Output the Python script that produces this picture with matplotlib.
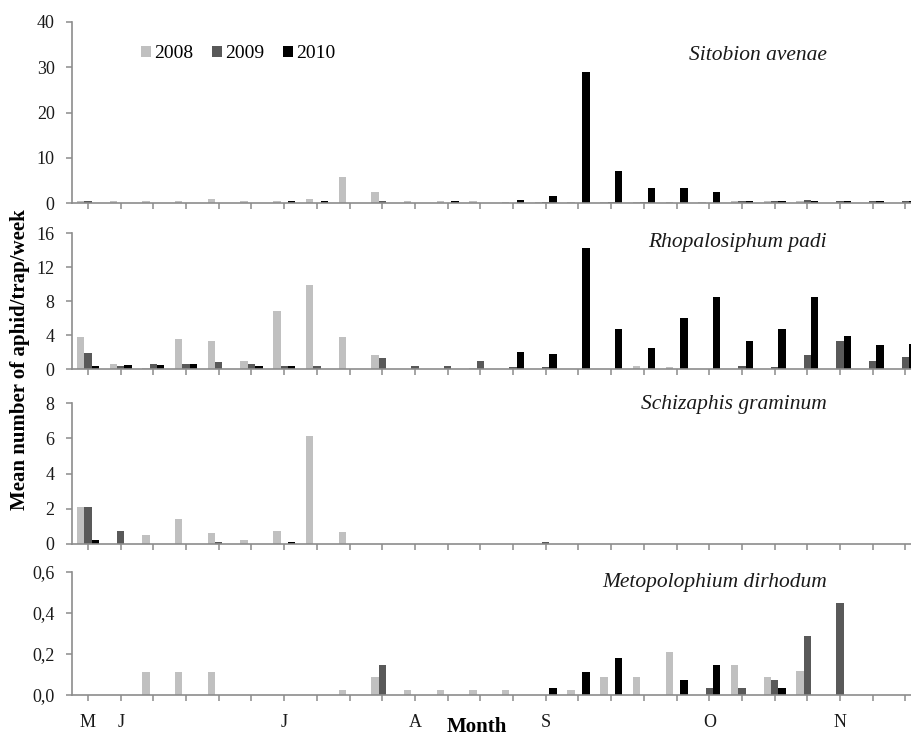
import matplotlib
matplotlib.use("Agg")
import matplotlib.pyplot as plt
import numpy as np

years = ["2008", "2009", "2010"]
colors = ["#c0c0c0", "#595959", "#000000"]

# 26 weekly sampling dates (May - November)
n_weeks = 26
month_labels = ["M", "J", "J", "A", "S", "O", "N"]
month_pos = [0, 1, 6, 10, 14, 19, 23]

species = ["Sitobion avenae", "Rhopalosiphum padi", "Schizaphis graminum", "Metopolophium dirhodum"]

sitobion_2008 = [0.4, 0.4, 0.4, 0.4, 0.8, 0.4, 0.4, 0.8, 5.8, 2.5, 0.4, 0.4, 0.4, 0.3, 0.3, 0.3, 0.3, 0.3, 0.3, 0.3, 0.4, 0.4, 0.4, 0, 0, 0]
sitobion_2009 = [0.5, 0, 0, 0, 0, 0, 0, 0, 0, 0.4, 0, 0, 0, 0, 0.3, 0, 0.3, 0.3, 0, 0, 0.4, 0.4, 0.7, 0.4, 0.4, 0.4]
sitobion_2010 = [0, 0, 0, 0, 0, 0, 0.5, 0.5, 0, 0, 0, 0.5, 0, 0.7, 1.6, 29.0, 7.1, 3.3, 3.3, 2.5, 0.4, 0.4, 0.4, 0.4, 0.4, 0.4]

padi_2008 = [3.8, 0.6, 0.1, 3.5, 3.3, 0.9, 6.8, 9.9, 3.8, 1.6, 0, 0, 0.1, 0, 0, 0, 0, 0.4, 0.2, 0, 0, 0, 0, 0, 0, 0]
padi_2009 = [1.9, 0.3, 0.6, 0.6, 0.8, 0.6, 0.3, 0.3, 0, 1.3, 0.3, 0.3, 0.9, 0.2, 0.2, 0, 0, 0, 0, 0, 0.4, 0.2, 1.6, 3.3, 0.9, 1.4]
padi_2010 = [0.3, 0.5, 0.5, 0.6, 0, 0.3, 0.3, 0, 0, 0, 0, 0, 0, 2.0, 1.8, 14.2, 4.7, 2.5, 6.0, 8.5, 3.3, 4.7, 8.5, 3.9, 2.8, 2.9]

schiz_2008 = [2.1, 0, 0.5, 1.4, 0.6, 0.2, 0.75, 6.1, 0.7, 0, 0, 0, 0, 0, 0, 0, 0, 0, 0, 0, 0, 0, 0, 0, 0, 0]
schiz_2009 = [2.1, 0.75, 0, 0, 0.1, 0, 0, 0, 0, 0, 0, 0, 0, 0, 0.1, 0, 0, 0, 0, 0, 0, 0, 0, 0, 0, 0]
schiz_2010 = [0.2, 0, 0, 0, 0, 0, 0.1, 0, 0, 0, 0, 0, 0, 0, 0, 0, 0, 0, 0, 0, 0, 0, 0, 0, 0, 0]

metop_2008 = [0, 0, 0.11, 0.11, 0.11, 0, 0, 0, 0.025, 0.09, 0.025, 0.025, 0.025, 0.025, 0, 0.025, 0.09, 0.09, 0.21, 0, 0.146, 0.09, 0.117, 0, 0, 0]
metop_2009 = [0, 0, 0, 0, 0, 0, 0, 0, 0, 0.146, 0, 0, 0, 0, 0, 0, 0, 0, 0, 0.035, 0.035, 0.075, 0.29, 0.45, 0, 0]
metop_2010 = [0, 0, 0, 0, 0, 0, 0, 0, 0, 0, 0, 0, 0, 0, 0.035, 0.11, 0.18, 0, 0.073, 0.146, 0, 0.035, 0, 0, 0, 0]

panels = [
    (species[0], [sitobion_2008, sitobion_2009, sitobion_2010], [0, 10, 20, 30, 40], ["0", "10", "20", "30", "40"]),
    (species[1], [padi_2008, padi_2009, padi_2010], [0, 4, 8, 12, 16], ["0", "4", "8", "12", "16"]),
    (species[2], [schiz_2008, schiz_2009, schiz_2010], [0, 2, 4, 6, 8], ["0", "2", "4", "6", "8"]),
    (species[3], [metop_2008, metop_2009, metop_2010], [0, 0.2, 0.4, 0.6], ["0,0", "0,2", "0,4", "0,6"]),
]

W, H = 912, 736
fig = plt.figure(figsize=(W / 100, H / 100), dpi=100)
serif = ["Liberation Serif", "DejaVu Serif"]
plt.rcParams["font.family"] = serif

# pixel boxes (top, bottom) of each plot area
boxes = [(22, 203), (233, 369), (403, 544), (572, 695)]
left_px = 72
x0_px = 88
step_px = 32.7
xlim = ((left_px - x0_px) / step_px, (W - x0_px) / step_px)

x = np.arange(n_weeks)
bw = 0.225
offsets = [-bw, 0, bw]
axis_col = "#8c8c8c"
text_col = "#1a1a1a"

axes = []
for i, ((top, bot), (name, series, yt, ytl)) in enumerate(zip(boxes, panels)):
    ax = fig.add_axes([left_px / W, 1 - bot / H, 1 - left_px / W, (bot - top) / H])
    axes.append(ax)
    for s, vals in enumerate(series):
        ax.bar(x + offsets[s], vals, width=bw, color=colors[s], linewidth=0,
               label=years[s], zorder=2)
    ax.set_xlim(*xlim)
    ax.set_ylim(yt[0], yt[-1])
    ax.set_yticks(yt)
    ax.set_yticklabels(ytl)
    ax.set_xticks(x)
    if i == 3:
        labels = [""] * n_weeks
        for m, p in zip(month_labels, month_pos):
            labels[p] = m
        ax.set_xticklabels(labels)
    else:
        ax.set_xticklabels([])
    for sp in ["top", "right"]:
        ax.spines[sp].set_visible(False)
    for sp in ["left", "bottom"]:
        ax.spines[sp].set_color(axis_col)
        ax.spines[sp].set_linewidth(1.2)
    ax.tick_params(axis="both", direction="out", length=4.5, width=1.1, color=axis_col,
                   labelsize=13, labelcolor=text_col)
    ax.tick_params(axis="y", pad=8)
    ax.tick_params(axis="x", pad=9)
    ax.patch.set_alpha(0)
    # species name
    title_y = [55, 242, 405, 582][i]
    fig.text(827 / W, 1 - title_y / H, name, ha="right", va="center",
             fontsize=15.5, style="italic", color=text_col)

# legend
axes[0].legend(loc="upper left",
               bbox_to_anchor=((141 - left_px) / (W - left_px), 1 - (45 - 22) / 181),
               bbox_transform=axes[0].transAxes, ncol=3, frameon=False, fontsize=14,
               handlelength=0.5, handleheight=0.5, handletextpad=0.15, columnspacing=1.0,
               borderaxespad=0, borderpad=0)

fig.text(20 / W, 1 - 360 / H, "Mean number of aphid/trap/week", rotation=90,
         ha="center", va="center", fontsize=15, fontweight="bold", color="black")
fig.text(477 / W, 1 - 727 / H, "Month", ha="center", va="center",
         fontsize=15, fontweight="bold", color="black")

fig.savefig("out.png", dpi=100)
